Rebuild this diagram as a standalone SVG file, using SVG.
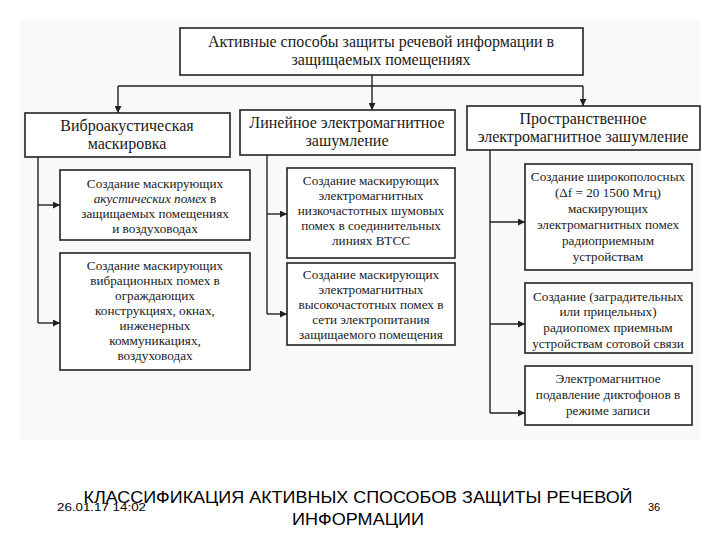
<svg xmlns="http://www.w3.org/2000/svg" width="720" height="540" viewBox="0 0 720 540">
<style>
.box{fill:#fff;stroke:#222;stroke-width:1.6}
.t{font-family:"Liberation Serif","Times New Roman","DejaVu Serif",serif;fill:#1a1a1a;text-anchor:middle}
.h{font-size:16px}
.s{font-size:13.2px}
.ln{fill:none;stroke:#222;stroke-width:1.4}
.f{font-family:"Liberation Sans",Arial,sans-serif;fill:#000}
</style>
<defs>
<marker id="ar" viewBox="0 0 10 10" refX="10" refY="5" markerWidth="7" markerHeight="7" orient="auto" markerUnits="userSpaceOnUse">
<path d="M0,0 L10,5 L0,10 z" fill="#222"/>
</marker>
</defs>
<rect x="0" y="0" width="720" height="540" fill="#fff"/>
<rect x="20" y="20" width="680" height="420" fill="#f9f9f9"/>
<g id="connectors">
<path class="ln" d="M372,75 V86"/>
<path class="ln" d="M118,86 H583"/>
<path class="ln" d="M118,86 V113" marker-end="url(#ar)"/>
<path class="ln" d="M372,86 V110" marker-end="url(#ar)"/>
<path class="ln" d="M583,86 V106" marker-end="url(#ar)"/>
<path class="ln" d="M38,157 V323"/>
<path class="ln" d="M38,205 H60" marker-end="url(#ar)"/>
<path class="ln" d="M38,323 H60" marker-end="url(#ar)"/>
<path class="ln" d="M267,155 V314"/>
<path class="ln" d="M267,214 H287" marker-end="url(#ar)"/>
<path class="ln" d="M267,314 H287" marker-end="url(#ar)"/>
<path class="ln" d="M490,150 V413"/>
<path class="ln" d="M490,222 H525" marker-end="url(#ar)"/>
<path class="ln" d="M490,324 H525" marker-end="url(#ar)"/>
<path class="ln" d="M490,413 H525" marker-end="url(#ar)"/>
</g>
<g id="root">
<rect class="box" x="180" y="28" width="403" height="47"/>
<text class="t h" x="381" y="47">Активные способы защиты речевой информации в</text>
<text class="t h" x="381" y="65">защищаемых  помещениях</text>
</g>
<g id="vibro">
<rect class="box" x="25" y="113" width="205" height="44"/>
<text class="t h" x="127" y="131">Виброакустическая</text>
<text class="t h" x="127" y="149">маскировка</text>
</g>
<g id="linear">
<rect class="box" x="240" y="110" width="215" height="45"/>
<text class="t h" x="347" y="128">Линейное электромагнитное</text>
<text class="t h" x="347" y="146">зашумление</text>
</g>
<g id="spatial">
<rect class="box" x="467" y="106" width="233" height="44"/>
<text class="t h" x="583" y="124">Пространственное</text>
<text class="t h" x="583" y="142">электромагнитное зашумление</text>
</g>
<g id="a1">
<rect class="box" x="60" y="170" width="190" height="70"/>
<text class="t s" x="155" y="188">Создание маскирующих</text>
<text class="t s" x="155" y="203"><tspan font-style="italic">акустических помех</tspan> в</text>
<text class="t s" x="155" y="218">защищаемых помещениях</text>
<text class="t s" x="155" y="233">и воздуховодах</text>
</g>
<g id="a2">
<rect class="box" x="60" y="253" width="190" height="117"/>
<text class="t s" x="155" y="270">Создание маскирующих</text>
<text class="t s" x="155" y="285">вибрационных помех в</text>
<text class="t s" x="155" y="300">ограждающих</text>
<text class="t s" x="155" y="315">конструкциях, окнах,</text>
<text class="t s" x="155" y="330">инженерных</text>
<text class="t s" x="155" y="345">коммуникациях,</text>
<text class="t s" x="155" y="360">воздуховодах</text>
</g>
<g id="b1">
<rect class="box" x="287" y="168" width="168" height="90"/>
<text class="t s" x="371" y="185">Создание маскирующих</text>
<text class="t s" x="371" y="200">электромагнитных</text>
<text class="t s" x="371" y="215">низкочастотных шумовых</text>
<text class="t s" x="371" y="230">помех в соединительных</text>
<text class="t s" x="371" y="245">линиях ВТСС</text>
</g>
<g id="b2">
<rect class="box" x="287" y="263" width="168" height="82"/>
<text class="t s" x="371" y="279">Создание маскирующих</text>
<text class="t s" x="371" y="294">электромагнитных</text>
<text class="t s" x="371" y="309">высокочастотных помех в</text>
<text class="t s" x="371" y="324">сети электропитания</text>
<text class="t s" x="371" y="339">защищаемого помещения</text>
</g>
<g id="c1">
<rect class="box" x="525" y="164" width="167" height="106"/>
<text class="t s" x="608" y="181">Создание широкополосных</text>
<text class="t s" x="608" y="197">(Δf = 20 1500 Мгц)</text>
<text class="t s" x="608" y="213">маскирующих</text>
<text class="t s" x="608" y="229">электромагнитных помех</text>
<text class="t s" x="608" y="245">радиоприемным</text>
<text class="t s" x="608" y="261">устройствам</text>
</g>
<g id="c2">
<rect class="box" x="525" y="283" width="167" height="70"/>
<text class="t s" x="608" y="301">Создание (заградительных</text>
<text class="t s" x="608" y="316">или прицельных)</text>
<text class="t s" x="608" y="332">радиопомех приемным</text>
<text class="t s" x="608" y="348">устройствам сотовой связи</text>
</g>
<g id="c3">
<rect class="box" x="525" y="366" width="167" height="59"/>
<text class="t s" x="608" y="383">Электромагнитное</text>
<text class="t s" x="608" y="399">подавление диктофонов в</text>
<text class="t s" x="608" y="415">режиме записи</text>
</g>
<g id="footer">
<text class="f" x="358" y="503" font-size="17" text-anchor="middle" textLength="549" lengthAdjust="spacingAndGlyphs">КЛАССИФИКАЦИЯ АКТИВНЫХ СПОСОБОВ ЗАЩИТЫ РЕЧЕВОЙ</text>
<text class="f" x="358" y="525" font-size="17" text-anchor="middle" textLength="132" lengthAdjust="spacingAndGlyphs">ИНФОРМАЦИИ</text>
<text class="f" x="57" y="511" font-size="11" textLength="89" lengthAdjust="spacingAndGlyphs">26.01.17 14:02</text>
<text class="f" x="648" y="511" font-size="11">36</text>
</g>
</svg>
